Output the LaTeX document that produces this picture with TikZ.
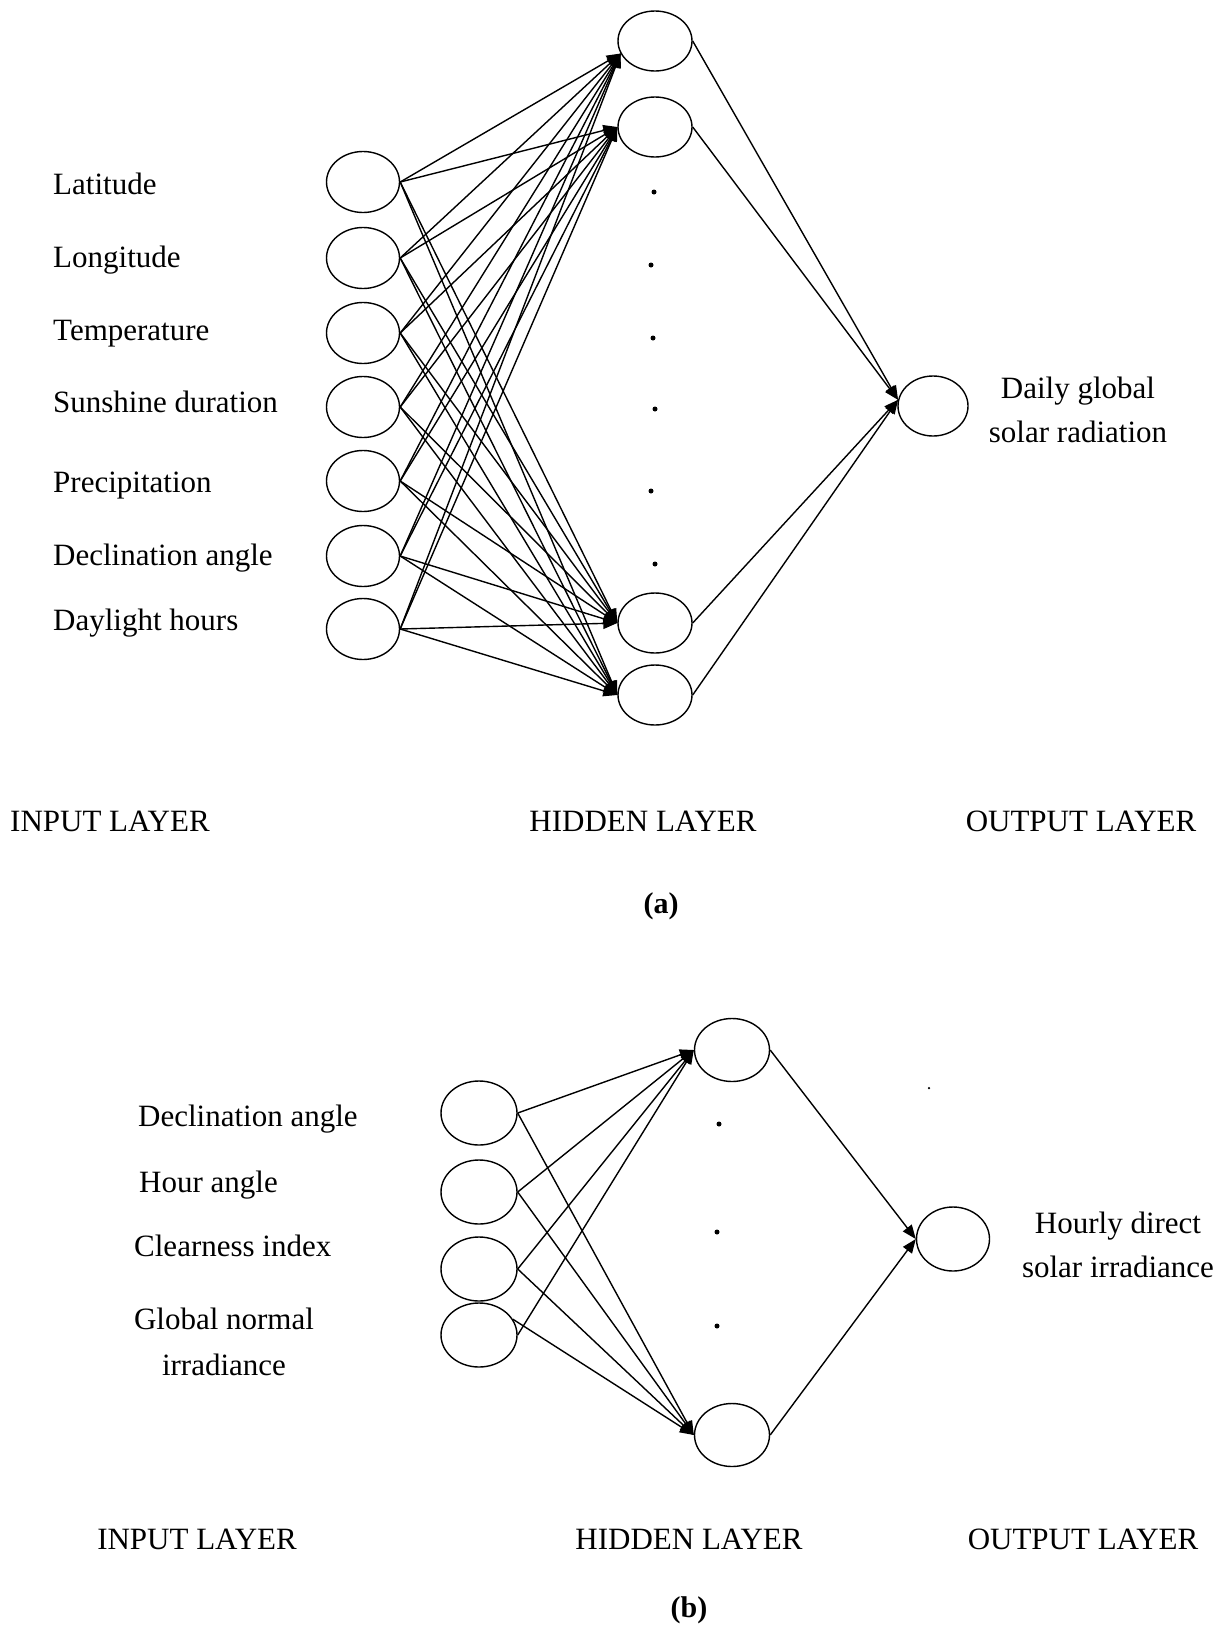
\documentclass[tikz,border=0pt]{standalone}
\usepackage{fontspec}
\setmainfont{Liberation Serif}
\usetikzlibrary{shapes.geometric,arrows.meta}
\begin{document}
\begin{tikzpicture}[x=1pt,y=-1pt,
  neuA/.style={draw,ellipse,line width=1.4pt,inner sep=0pt,minimum width=73pt,minimum height=61pt},
  neuB/.style={draw,ellipse,line width=1.4pt,inner sep=0pt,minimum width=75pt,minimum height=63pt},
  conn/.style={line width=1.4pt,-{Triangle[length=14pt,width=11pt]}},
  lbl/.style={font=\fontsize{31}{37}\selectfont,inner sep=0pt},
  capstyle/.style={font=\fontsize{30}{36}\selectfont\bfseries,inner sep=0pt},
  dotn/.style={fill,circle,inner sep=0pt,minimum size=5pt}]
\useasboundingbox (0,0) rectangle (1227,1628);

% ---------------- (a) ----------------
\foreach \n/\y in {1/182,2/258,3/333,4/407,5/481,6/556,7/629}
  \node[neuA] (ai\n) at (363,\y) {};
\foreach \n/\y in {1/41,2/127,3/623,4/695}
  \node[neuA,minimum width=74pt,minimum height=60pt] (ah\n) at (655,\y) {};
\node[neuA,minimum width=70pt,minimum height=60pt] (ao) at (933,406) {};

\foreach \n/\x/\y in {1/654/192,2/651/265,3/653/338,4/655/409,5/651/491,6/655/564}
  \node[dotn] (ad\n) at (\x,\y) {};

\foreach \i in {1,...,7}{
  \draw[conn] (ai\i.east) -- (ah1.200);
  \foreach \j in {2,3,4}
    \draw[conn] (ai\i.east) -- (ah\j.west);
}
\foreach \j in {1,...,4}
  \draw[conn] (ah\j.east) -- (ao.170);

\node[lbl,anchor=base west] (la1) at (53,194) {Latitude};
\node[lbl,anchor=base west] (la2) at (53,267) {Longitude};
\node[lbl,anchor=base west] (la3) at (53,340) {Temperature};
\node[lbl,anchor=base west] (la4) at (53,412) {Sunshine duration};
\node[lbl,anchor=base west] (la5) at (53,492) {Precipitation};
\node[lbl,anchor=base west] (la6) at (53,565) {Declination angle};
\node[lbl,anchor=base west] (la7) at (53,630) {Daylight hours};

\node[lbl,anchor=base] (oa1) at (1078,398) {Daily global};
\node[lbl,anchor=base] (oa2) at (1078,442) {solar radiation};

\node[lbl,anchor=base west] (ta1) at (10,831) {INPUT LAYER};
\node[lbl,anchor=base] (ta2) at (643,831) {HIDDEN LAYER};
\node[lbl,anchor=base] (ta3) at (1081,831) {OUTPUT LAYER};
\node[capstyle,anchor=base] (capa) at (661,913) {(a)};

% ---------------- (b) ----------------
\foreach \n/\y in {1/1113,2/1192,3/1269,4/1335}
  \node[neuB,minimum width=76pt,minimum height=64pt] (bi\n) at (479,\y) {};
\node[neuB] (bh1) at (732,1050) {};
\node[neuB] (bh2) at (732,1435) {};
\node[neuB,minimum width=73pt,minimum height=64pt] (bo) at (953,1239) {};

\foreach \n/\x/\y in {1/719/1124,2/717/1232,3/717/1326}
  \node[dotn] (bd\n) at (\x,\y) {};
\node[fill,circle,inner sep=0pt,minimum size=2.5pt] (stray) at (929,1088) {};

\foreach \i in {1,2,3}{
  \draw[conn] (bi\i.east) -- (bh1.west);
  \draw[conn] (bi\i.east) -- (bh2.west);
}
\draw[conn] (bi4.east) -- (bh1.west);
\draw[conn] (bi4.25) -- (bh2.west);
\draw[conn] (bh1.east) -- (bo.west);
\draw[conn] (bh2.east) -- (bo.west);

\node[lbl,anchor=base west] (lb1) at (138,1126) {Declination angle};
\node[lbl,anchor=base west] (lb2) at (139,1192) {Hour angle};
\node[lbl,anchor=base west] (lb3) at (134,1256) {Clearness index};
\node[lbl,anchor=base] (lb4) at (224,1329) {Global normal};
\node[lbl,anchor=base] (lb5) at (224,1375) {irradiance};

\node[lbl,anchor=base] (ob1) at (1118,1233) {Hourly direct};
\node[lbl,anchor=base] (ob2) at (1118,1277) {solar irradiance};

\node[lbl,anchor=base] (tb1) at (197,1549) {INPUT LAYER};
\node[lbl,anchor=base] (tb2) at (689,1549) {HIDDEN LAYER};
\node[lbl,anchor=base] (tb3) at (1083,1549) {OUTPUT LAYER};
\node[capstyle,anchor=base] (capb) at (689,1617) {(b)};
\end{tikzpicture}
\end{document}
